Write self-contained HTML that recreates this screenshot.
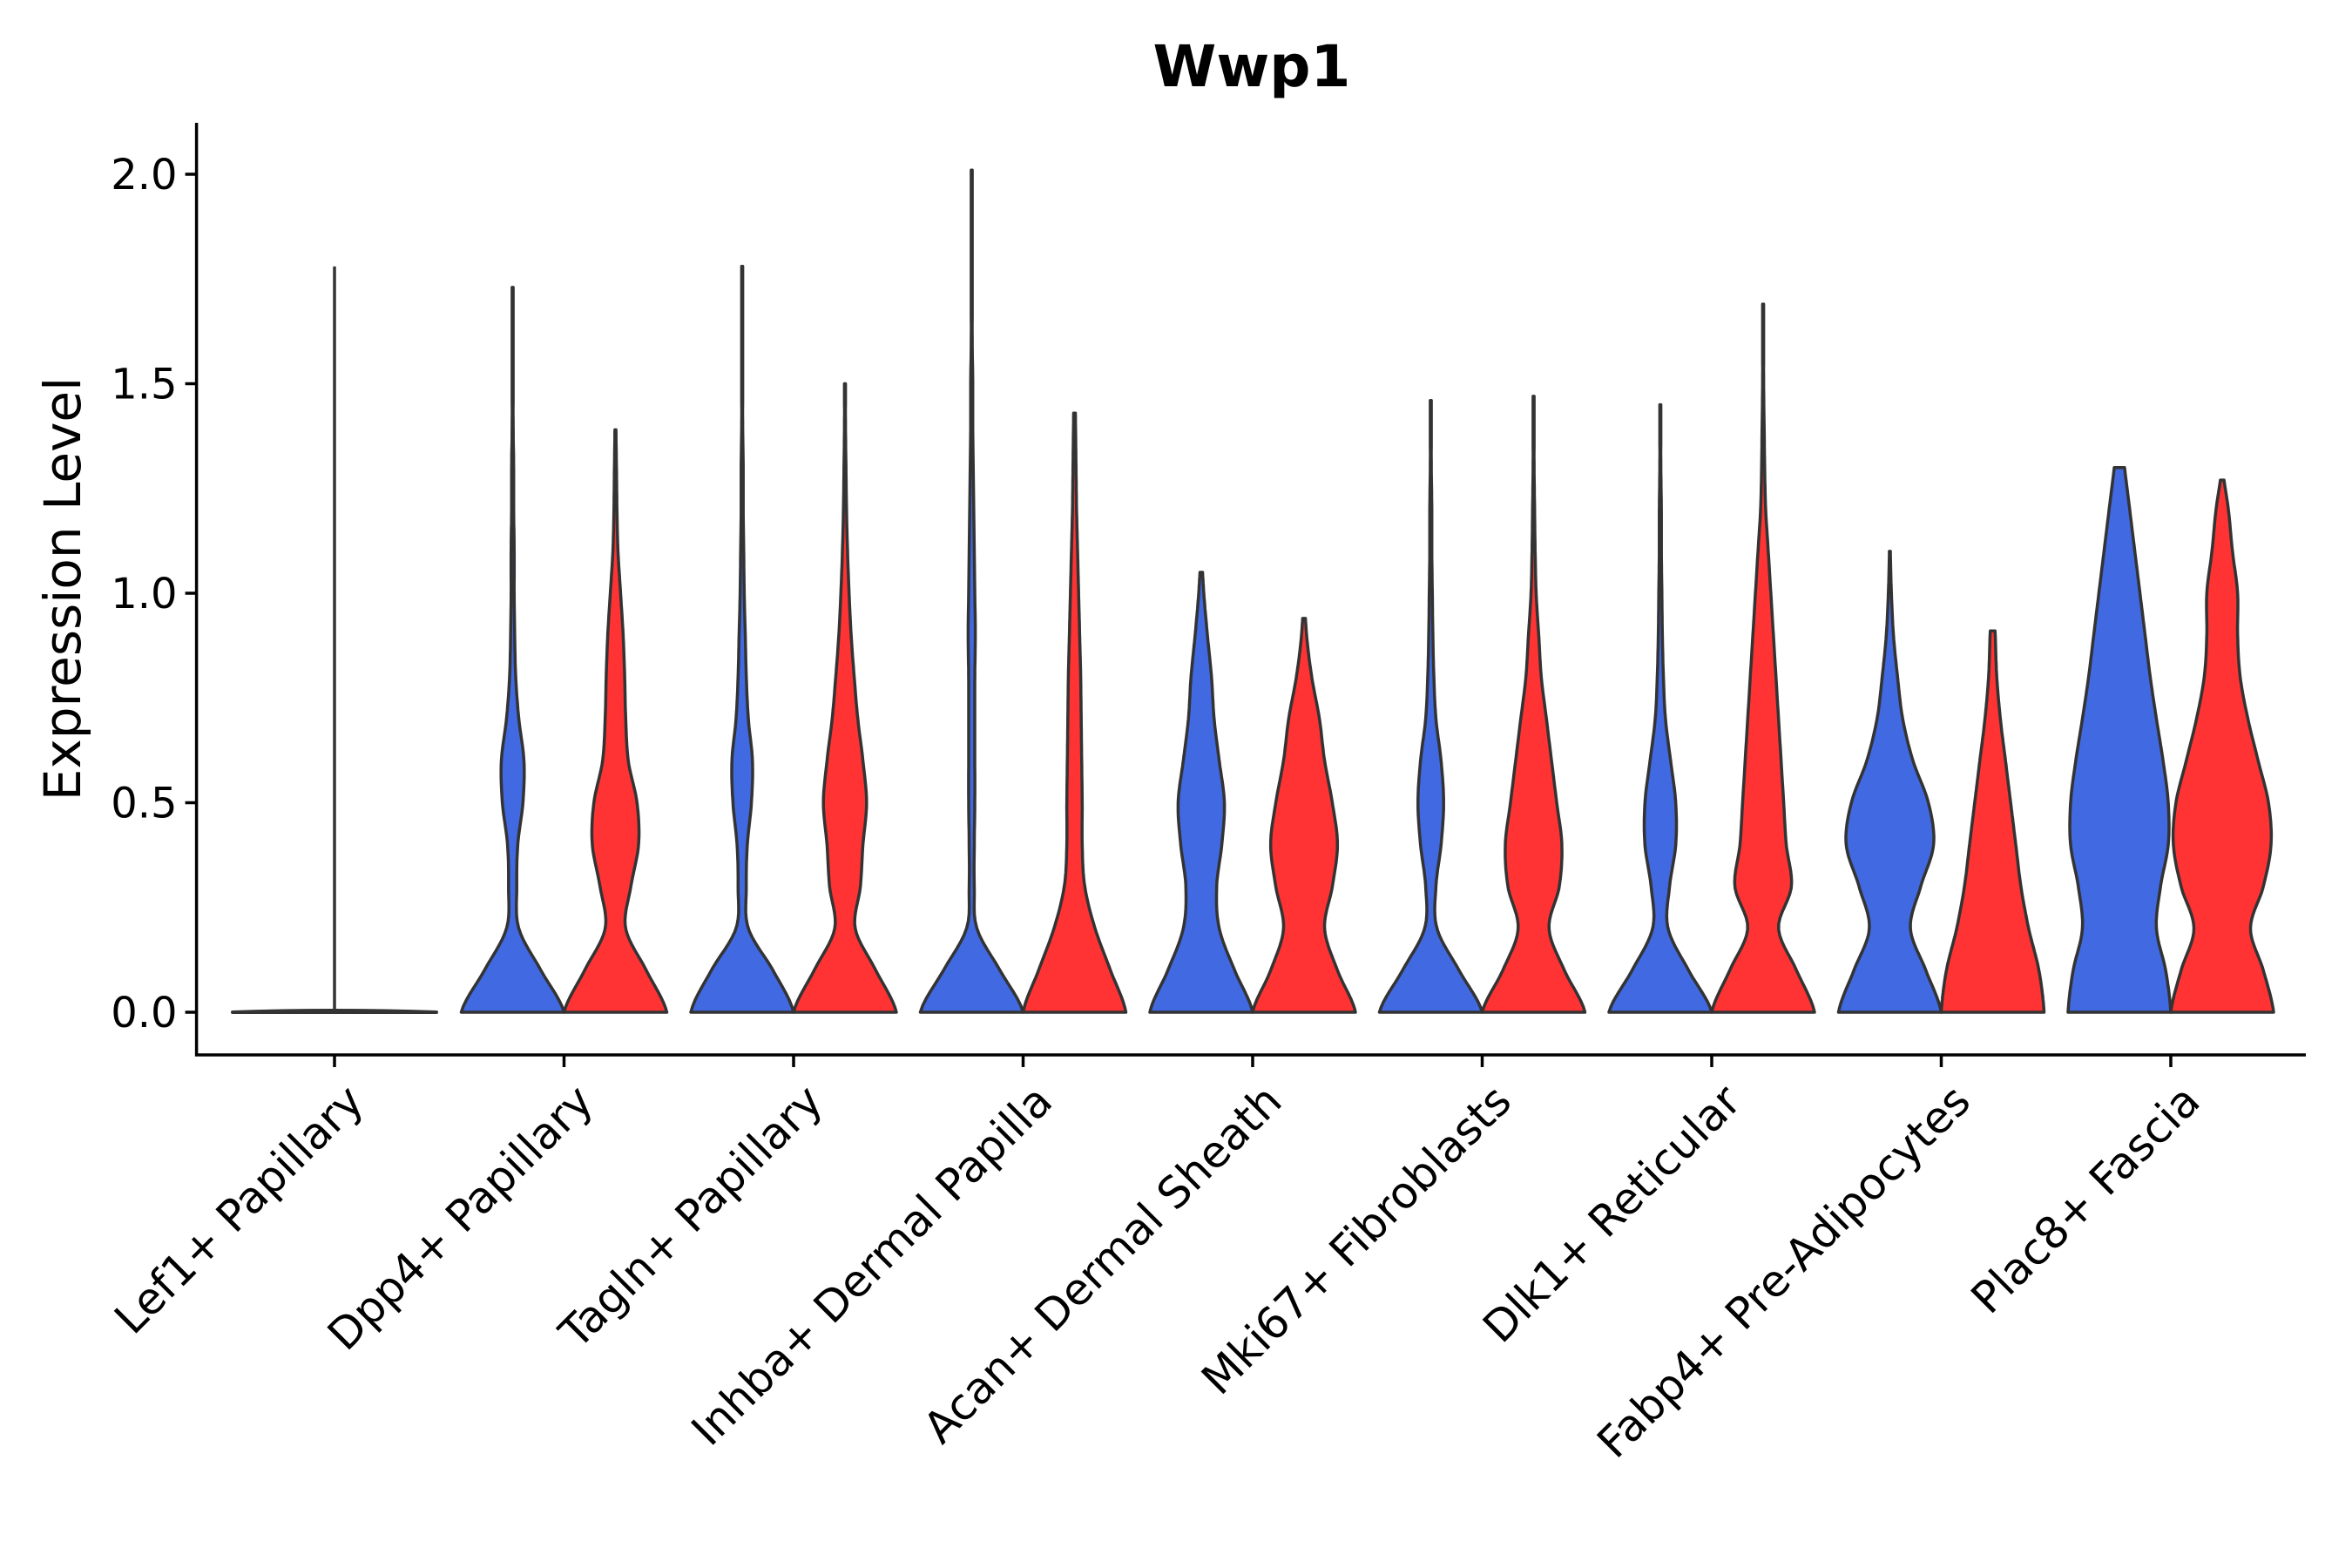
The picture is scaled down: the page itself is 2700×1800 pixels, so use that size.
<!DOCTYPE html>
<html><head><meta charset="utf-8"><style>
html,body{margin:0;padding:0;background:#fff;}
svg{display:block;font-family:"DejaVu Sans","Liberation Sans",sans-serif;}
</style></head><body>
<svg id="chart" width="2700" height="1800" viewBox="0 0 2700 1800" xmlns="http://www.w3.org/2000/svg">
<rect width="2700" height="1800" fill="#fff"/>
<text x="1437" y="99" font-size="66" font-weight="bold" text-anchor="middle">Wwp1</text>
<text transform="translate(92,676) rotate(-90)" font-size="58" text-anchor="middle">Expression Level</text>
<g id="plot"></g>
</svg>
<script>
const categories = ["Lef1+ Papillary","Dpp4+ Papillary","Tagln+ Papillary","Inhba+ Dermal Papilla","Acan+ Dermal Sheath","Mki67+ Fibroblasts","Dlk1+ Reticular","Fabp4+ Pre-Adipocytes","Plac8+ Fascia"];
const yTicks = [0,0.5,1,1.5,2];
const yTickLabels = ["0.0","0.5","1.0","1.5","2.0"];
const blueTop = [1.78,1.73,1.78,2.01,1.05,1.46,1.45,1.1,1.3];
const redTop  = [null,1.39,1.5,1.43,0.94,1.47,1.69,0.91,1.27];
// relative half-widths at y = 0, 0.1, 0.2, ...
const blueProfile = [
 [1,0,0],
 [1,0.55,0.12,0.08,0.1,0.2,0.22,0.12,0.06,0.04,0.03,0.03,0.02,0.02,0.01],
 [1,0.6,0.12,0.08,0.1,0.18,0.2,0.12,0.08,0.06,0.04,0.03,0.02,0.02,0.01],
 [1,0.55,0.1,0.05,0.05,0.06,0.06,0.06,0.06,0.07,0.06,0.05,0.04,0.03,0.02,0.02,0.01],
 [1,0.65,0.35,0.3,0.4,0.45,0.35,0.25,0.2,0.12,0.05],
 [1,0.55,0.12,0.1,0.2,0.25,0.2,0.1,0.06,0.04,0.03,0.02,0.02,0.01],
 [1,0.55,0.15,0.18,0.3,0.3,0.2,0.1,0.06,0.04,0.03,0.02,0.02,0.01],
 [1,0.7,0.4,0.6,0.85,0.75,0.45,0.25,0.15,0.07,0.03],
 [1,0.9,0.72,0.8,0.95,0.95,0.85,0.72,0.6,0.5,0.4,0.3,0.2,0.1]
];
const redProfile = [
 null,
 [1,0.6,0.2,0.3,0.45,0.42,0.25,0.2,0.18,0.15,0.1,0.05,0.03,0.02],
 [1,0.6,0.2,0.3,0.35,0.42,0.35,0.25,0.18,0.12,0.08,0.05,0.03,0.02,0.01],
 [1,0.7,0.4,0.2,0.15,0.15,0.14,0.13,0.12,0.1,0.08,0.06,0.04,0.03,0.02],
 [1,0.65,0.4,0.55,0.65,0.55,0.4,0.3,0.15,0.05],
 [1,0.6,0.3,0.5,0.55,0.45,0.35,0.25,0.15,0.1,0.05,0.03,0.02,0.01],
 [1,0.65,0.3,0.55,0.45,0.4,0.35,0.3,0.25,0.2,0.15,0.1,0.05,0.03,0.02,0.01],
 [1,0.9,0.7,0.55,0.45,0.35,0.25,0.15,0.08,0.05],
 [1,0.8,0.55,0.8,0.95,0.9,0.7,0.5,0.35,0.3,0.3,0.2,0.12]
];
const NS="http://www.w3.org/2000/svg";
const g=document.getElementById('plot');
const X0=225.6, X1=2647, YB=1211, YT=141;
const yScale=v=>1162-v*481;
const xScale=i=>384+i*263.5;
const HW=59;
function mk(t,a){const e=document.createElementNS(NS,t);for(const k in a)e.setAttribute(k,a[k]);g.appendChild(e);return e;}
function pv(p,i){if(i<0)return p[0];return i<p.length?p[i]:0.01;}
function widthAt(p,y){
  const k=y/0.1, i=Math.floor(k), t=k-i;
  const p0=pv(p,i-1),p1=pv(p,i),p2=pv(p,i+1),p3=pv(p,i+2);
  const v=0.5*((2*p1)+(-p0+p2)*t+(2*p0-5*p1+4*p2-p3)*t*t+(-p0+3*p1-3*p2+p3)*t*t*t);
  return Math.max(Math.min(v,1.05),0.008);
}
function violinPath(cx,p,top,scale){
  const n=120,L=[],R=[];
  for(let j=0;j<=n;j++){const y=top*j/n;const w=widthAt(p,y)*scale;const py=yScale(y);L.push([cx-w,py]);R.push([cx+w,py]);}
  let d="M"+R.map(q=>q[0].toFixed(1)+","+q[1].toFixed(1)).join(" L");
  d+=" L"+L.reverse().map(q=>q[0].toFixed(1)+","+q[1].toFixed(1)).join(" L")+" Z";
  return d;
}
categories.forEach((c,i)=>{
  const cx=xScale(i);
  if(redTop[i]===null){
    const ln=mk('line',{x1:cx,x2:cx,y1:yScale(0),y2:yScale(blueTop[i]),stroke:'#333','stroke-width':3.5});
    
    
    const b=mk('path',{d:`M${cx-117},${yScale(0)} Q${cx},${yScale(0)-4} ${cx+117},${yScale(0)} Z`,fill:'#fff',stroke:'#333','stroke-width':4,'stroke-linejoin':'round'});
    
    
  } else {
    const bv=mk('path',{d:violinPath(cx-59,blueProfile[i],blueTop[i],HW),fill:'#4169E1',stroke:'#333','stroke-width':3.5,'stroke-linejoin':'round'});
    
    
    const rv=mk('path',{d:violinPath(cx+59,redProfile[i],redTop[i],HW),fill:'#FF3333',stroke:'#333','stroke-width':3.5,'stroke-linejoin':'round'});
    
    
  }
  const tk=mk('line',{x1:cx,x2:cx,y1:YB,y2:YB+14,stroke:'#000','stroke-width':3.5});
  
  
  const t=mk('text',{transform:`translate(${cx+10},${YB+30}) rotate(-45)`,'font-size':50,'text-anchor':'end','dominant-baseline':'hanging'});
  t.textContent=c;
  
  
});
yTicks.forEach((v,i)=>{
  const y=yScale(v);
  const tk=mk('line',{x1:X0-13,x2:X0,y1:y,y2:y,stroke:'#000','stroke-width':3.5});
  
  
  const t=mk('text',{x:X0-22,y:y+17,'font-size':48,'text-anchor':'end'});
  t.textContent=yTickLabels[i];
  
  
});
const ax=mk('path',{d:`M${X0},${YT} L${X0},${YB} L${X1},${YB}`,fill:'none',stroke:'#000','stroke-width':3.5});


</script>
</body></html>
